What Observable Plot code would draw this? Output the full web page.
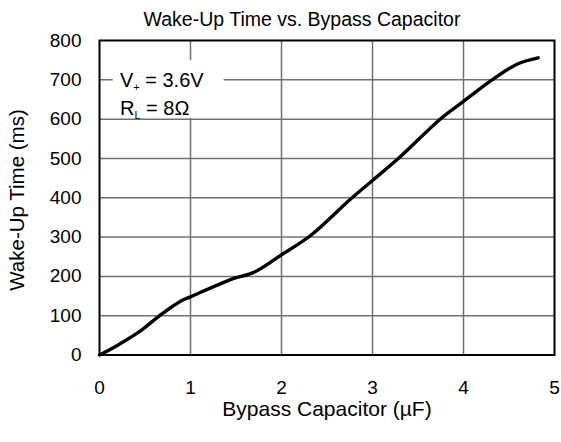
<!DOCTYPE html>
<html><head><meta charset="utf-8">
<script src="https://cdn.jsdelivr.net/npm/d3@7"></script>
<script src="https://cdn.jsdelivr.net/npm/@observablehq/plot@0.6"></script>
<style>body{margin:0;background:#fff} svg{font-family:"Liberation Sans",Arial,sans-serif}</style>
</head><body><div id="chart"></div>
<script>
const capacitance = [0, 0.2, 0.43, 0.69, 0.91, 1.0, 1.42, 1.72, 2.0, 2.32, 2.76, 3.0, 3.28, 3.75, 4.0, 4.31, 4.6, 4.82];
const wakeUpTime  = [0, 25, 58, 105, 139, 148, 190, 213, 255, 304, 397, 444, 499, 601, 645, 699, 741, 756];
const xTicks = [0, 1, 2, 3, 4, 5];
const yTicks = [0, 100, 200, 300, 400, 500, 600, 700, 800];
const titleText = "Wake-Up Time vs. Bypass Capacitor";
const xLabel = "Bypass Capacitor (µF)";
const yLabel = "Wake-Up Time (ms)";
const noteBox = [{x1: 0.15, x2: 1.37, y1: 602, y2: 749}];
const noteLines = [
  {x: 0.23, y: 680, main: "V", sub: "+", rest: " = 3.6V"},
  {x: 0.23, y: 608, main: "R", sub: "L", rest: " = 8Ω"}
];

const data = capacitance.map((c, i) => ({c, t: wakeUpTime[i]}));

const plot = Plot.plot({
  width: 561, height: 442,
  marginLeft: 99, marginRight: 7, marginTop: 40, marginBottom: 87.5,
  x: {domain: [0, 5], label: null},
  y: {domain: [0, 800], label: null},
  style: {fontFamily: '"Liberation Sans", Arial, sans-serif', fontSize: "19px", color: "#000", background: "#fff", overflow: "visible"},
  marks: [
    Plot.gridX(xTicks.slice(1, -1), {stroke: "#707070", strokeOpacity: 1, strokeWidth: 1.5}),
    Plot.gridY(yTicks.slice(1, -1), {stroke: "#707070", strokeOpacity: 1, strokeWidth: 1.5}),
    Plot.rect(noteBox, {x1: "x1", x2: "x2", y1: "y1", y2: "y2", fill: "white"}),
    Plot.line(data, {x: "c", y: "t", stroke: "black", strokeWidth: 3.4, curve: "catmull-rom"}),
    Plot.frame({stroke: "black", strokeWidth: 2}),
    Plot.axisX({ticks: xTicks, tickFormat: "d", tickSize: 0, tickPadding: 25, fontSize: 19}),
    Plot.axisY({ticks: yTicks, tickFormat: "d", tickSize: 0, tickPadding: 18, fontSize: 19})
  ]
});
document.getElementById("chart").appendChild(plot);

const svg = d3.select(plot);
const sx = plot.scale("x"), sy = plot.scale("y");
svg.append("text").attr("x", 302).attr("y", 26).attr("text-anchor", "middle")
  .attr("font-size", 19.5).attr("fill", "#000").text(titleText);
svg.append("text").attr("x", 327).attr("y", 416).attr("text-anchor", "middle")
  .attr("font-size", 21).attr("fill", "#000").text(xLabel);
svg.append("text").attr("transform", "translate(24,200) rotate(-90)").attr("text-anchor", "middle")
  .attr("font-size", 20.5).attr("fill", "#000").text(yLabel);
noteLines.forEach(n => {
  const t = svg.append("text").attr("x", sx.apply(n.x)).attr("y", sy.apply(n.y))
    .attr("text-anchor", "start").attr("font-size", 20).attr("fill", "#000");
  t.append("tspan").text(n.main);
  t.append("tspan").attr("dy", 4).attr("font-size", 11).text(n.sub);
  t.append("tspan").attr("dy", -4).text(n.rest);
});
</script></body></html>
